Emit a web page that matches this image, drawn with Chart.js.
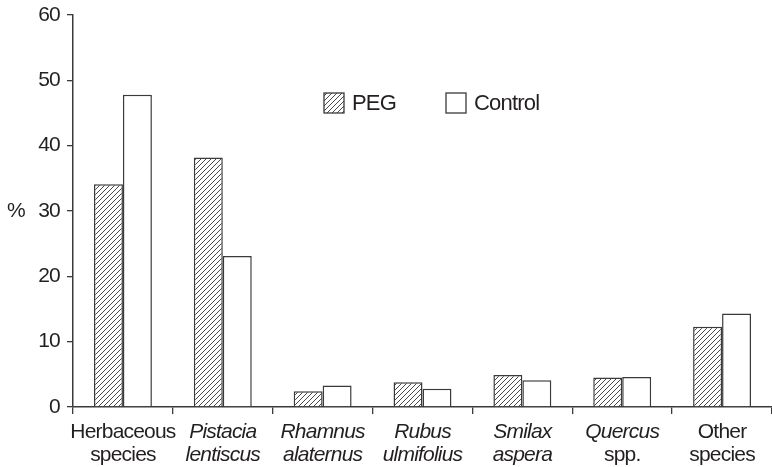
<!DOCTYPE html>
<html>
<head>
<meta charset="utf-8">
<script src="https://cdn.jsdelivr.net/npm/chart.js@4.4.1/dist/chart.umd.min.js"></script>
<style>
  html, body { margin: 0; padding: 0; background: #fff; }
</style>
</head>
<body>
<canvas id="chart" width="772" height="467"></canvas>
<script>
// data
const categories = [
  ['Herbaceous', 'species'],
  ['Pistacia', 'lentiscus'],
  ['Rhamnus', 'alaternus'],
  ['Rubus', 'ulmifolius'],
  ['Smilax', 'aspera'],
  ['Quercus', 'spp.'],
  ['Other', 'species'],
];
const labelItalic = [
  [false, false], [true, true], [true, true], [true, true],
  [true, true], [true, false], [false, false],
];
const seriesNames = ['PEG', 'Control'];
const pegValues = [34.1, 38.2, 2.4, 3.8, 4.9, 4.5, 12.3];
const controlValues = [47.8, 23.1, 3.3, 2.8, 4.1, 4.6, 14.3];
const yTicks = [0, 10, 20, 30, 40, 50, 60];
const yTitle = '%';

const INK = '#231f20';
const LINE = '#3a3a3a';
const FONT = '"Liberation Sans", Arial, Helvetica, sans-serif';
const TIGHT = '-0.8px';

// diagonal hatch fill for the PEG bars
function hatch() {
  const t = document.createElement('canvas');
  t.width = 5; t.height = 5;
  const g = t.getContext('2d');
  g.fillStyle = '#fff';
  g.fillRect(0, 0, 5, 5);
  g.strokeStyle = '#333';
  g.lineWidth = 0.9;
  g.beginPath();
  g.moveTo(-1, 6); g.lineTo(6, -1);
  g.moveTo(-1, 1); g.lineTo(1, -1);
  g.moveTo(4, 6); g.lineTo(6, 4);
  g.stroke();
  return g.createPattern(t, 'repeat');
}

const fills = [hatch(), '#fff'];

// x labels (mixed italic per line), y title and legend
const extras = {
  id: 'extras',
  beforeDraw(chart) {
    chart.ctx.letterSpacing = TIGHT;
  },
  afterDraw(chart) {
    const ctx = chart.ctx;
    const xs = chart.scales.x;
    const ys = chart.scales.y;
    ctx.save();
    ctx.letterSpacing = TIGHT;
    ctx.fillStyle = INK;
    ctx.textAlign = 'center';
    ctx.textBaseline = 'alphabetic';
    categories.forEach((lines, i) => {
      const x = xs.getPixelForTick(i);
      lines.forEach((t, j) => {
        ctx.font = (labelItalic[i][j] ? 'italic ' : '') + '21px ' + FONT;
        ctx.fillText(t, x, xs.top + 31 + j * 23);
      });
    });

    ctx.textBaseline = 'middle';
    ctx.font = '21px ' + FONT;
    ctx.fillText(yTitle, 16, ys.getPixelForValue(30));

    // legend
    const boxX = [324, 446];
    ctx.textAlign = 'left';
    ctx.font = '22px ' + FONT;
    seriesNames.forEach((name, i) => {
      ctx.fillStyle = fills[i];
      ctx.fillRect(boxX[i], 93, 20, 20);
      ctx.strokeStyle = LINE;
      ctx.lineWidth = 1.3;
      ctx.strokeRect(boxX[i], 93, 20, 20);
      ctx.fillStyle = INK;
      ctx.fillText(name, boxX[i] + 28, 104);
    });
    ctx.restore();
  },
};

new Chart(document.getElementById('chart'), {
  type: 'bar',
  data: {
    labels: categories.map((c) => c.join(' ')),
    datasets: [
      {
        label: seriesNames[0],
        data: pegValues,
        backgroundColor: fills[0],
        borderColor: LINE,
        borderWidth: 1.5,
      },
      {
        label: seriesNames[1],
        data: controlValues,
        backgroundColor: fills[1],
        borderColor: LINE,
        borderWidth: 1.5,
      },
    ],
  },
  options: {
    responsive: false,
    animation: false,
    devicePixelRatio: 1,
    categoryPercentage: 0.58,
    barPercentage: 1.0,
    layout: { padding: { top: 15, left: 0, right: 0, bottom: 0 } },
    plugins: {
      legend: { display: false },
      tooltip: { enabled: false },
    },
    scales: {
      x: {
        offset: true,
        grid: {
          offset: true,
          drawOnChartArea: false,
          drawTicks: true,
          tickLength: 7,
          color: LINE,
          lineWidth: 1.3,
        },
        border: { color: LINE, width: 1.5 },
        ticks: { display: false },
        afterFit: (s) => { s.height = 60; },
      },
      y: {
        min: yTicks[0],
        max: yTicks[yTicks.length - 1],
        afterBuildTicks: (s) => { s.ticks = yTicks.map((v) => ({ value: v })); },
        grid: {
          drawOnChartArea: false,
          drawTicks: true,
          tickLength: 6,
          color: LINE,
          lineWidth: 1.3,
        },
        border: { color: LINE, width: 1.5 },
        ticks: {
          color: INK,
          padding: 7,
          font: { family: FONT, size: 21, lineHeight: 1.0 },
        },
        afterFit: (s) => {
          s.width = 73;
          s.paddingTop = 0;
          s.paddingBottom = 0;
        },
      },
    },
  },
  plugins: [extras],
});
</script>
</body>
</html>
